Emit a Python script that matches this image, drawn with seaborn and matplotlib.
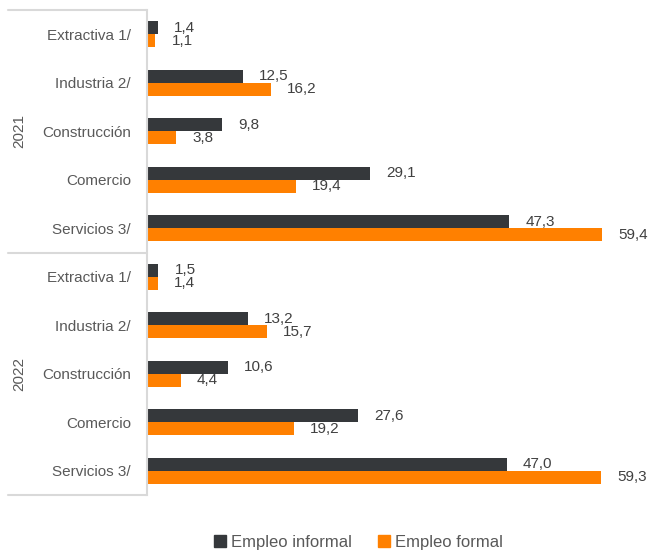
import pandas as pd
import matplotlib.pyplot as plt
import seaborn as sns

# datos
anios = ["2021", "2022"]
sectores = ["Extractiva 1/", "Industria 2/", "Construcción", "Comercio", "Servicios 3/"]
informal_2021 = [1.4, 12.5, 9.8, 29.1, 47.3]
formal_2021 = [1.1, 16.2, 3.8, 19.4, 59.4]
informal_2022 = [1.5, 13.2, 10.6, 27.6, 47.0]
formal_2022 = [1.4, 15.7, 4.4, 19.2, 59.3]
series = ["Empleo informal", "Empleo formal"]

colores = ["#35383b", "#ff8000"]
gris_texto = "#595959"
gris_linea = "#d9d9d9"

# tabla larga para seaborn
filas = []
for anio, inf, form in [("2021", informal_2021, formal_2021), ("2022", informal_2022, formal_2022)]:
    for sector, vi, vf in zip(sectores, inf, form):
        clave = anio + " | " + sector
        filas.append({"fila": clave, "valor": vi, "serie": series[0]})
        filas.append({"fila": clave, "valor": vf, "serie": series[1]})
df = pd.DataFrame(filas)
orden = [a + " | " + s for a in anios for s in sectores]

sns.set_style("white")
plt.rcParams["font.family"] = ["Liberation Sans", "DejaVu Sans"]

fig = plt.figure(figsize=(6.52, 5.51), dpi=100)
ax = fig.add_axes([147 / 652, 1 - 495 / 551, 498 / 652, 485 / 551])

sns.barplot(data=df, y="fila", x="valor", hue="serie", order=orden, hue_order=series,
            palette=colores, saturation=1, width=0.54, orient="h", linewidth=0, ax=ax, legend=True)

ax.set_xlim(0, 65)
ax.set_ylim(len(orden) - 0.5, -0.5)
ax.set_xlabel("")
ax.set_ylabel("")
ax.set_xticks([])
ax.set_yticks(range(len(orden)))
ax.set_yticklabels(sectores * len(anios), color=gris_texto, fontsize=11)
ax.tick_params(axis="y", length=0, pad=11.5)

for s in ["top", "right", "bottom"]:
    ax.spines[s].set_visible(False)
ax.spines["left"].set_color(gris_linea)
ax.spines["left"].set_linewidth(1.5)

# etiquetas de valores con coma decimal
for cont in ax.containers:
    etiquetas = [f"{b.get_width():.1f}".replace(".", ",") for b in cont]
    ax.bar_label(cont, labels=etiquetas, padding=11.5, fontsize=11, color="#404040")

# lineas separadoras de grupo y etiquetas de año
x0 = -139 / 498
tr = ax.get_yaxis_transform()
for yy in [-0.5, 4.5, 9.5]:
    ax.plot([x0, 0], [yy, yy], transform=tr, color=gris_linea, lw=1.5, clip_on=False)
for i, anio in enumerate(anios):
    ax.text(x0 + 11 / 498, i * 5 + 2, anio, transform=tr, rotation=90,
            ha="center", va="center", fontsize=11, color=gris_texto)

ax.get_legend().remove()
handles = [plt.Rectangle((0, 0), 1, 1, color=c) for c in colores]
fig.legend(handles, series, loc="lower center", bbox_to_anchor=(0.55, -0.025), ncol=2,
           frameon=False, handlelength=0.7, handleheight=0.7, handletextpad=0.3,
           columnspacing=1.6, fontsize=12, labelcolor=gris_texto)

fig.savefig("out.png", dpi=100)
